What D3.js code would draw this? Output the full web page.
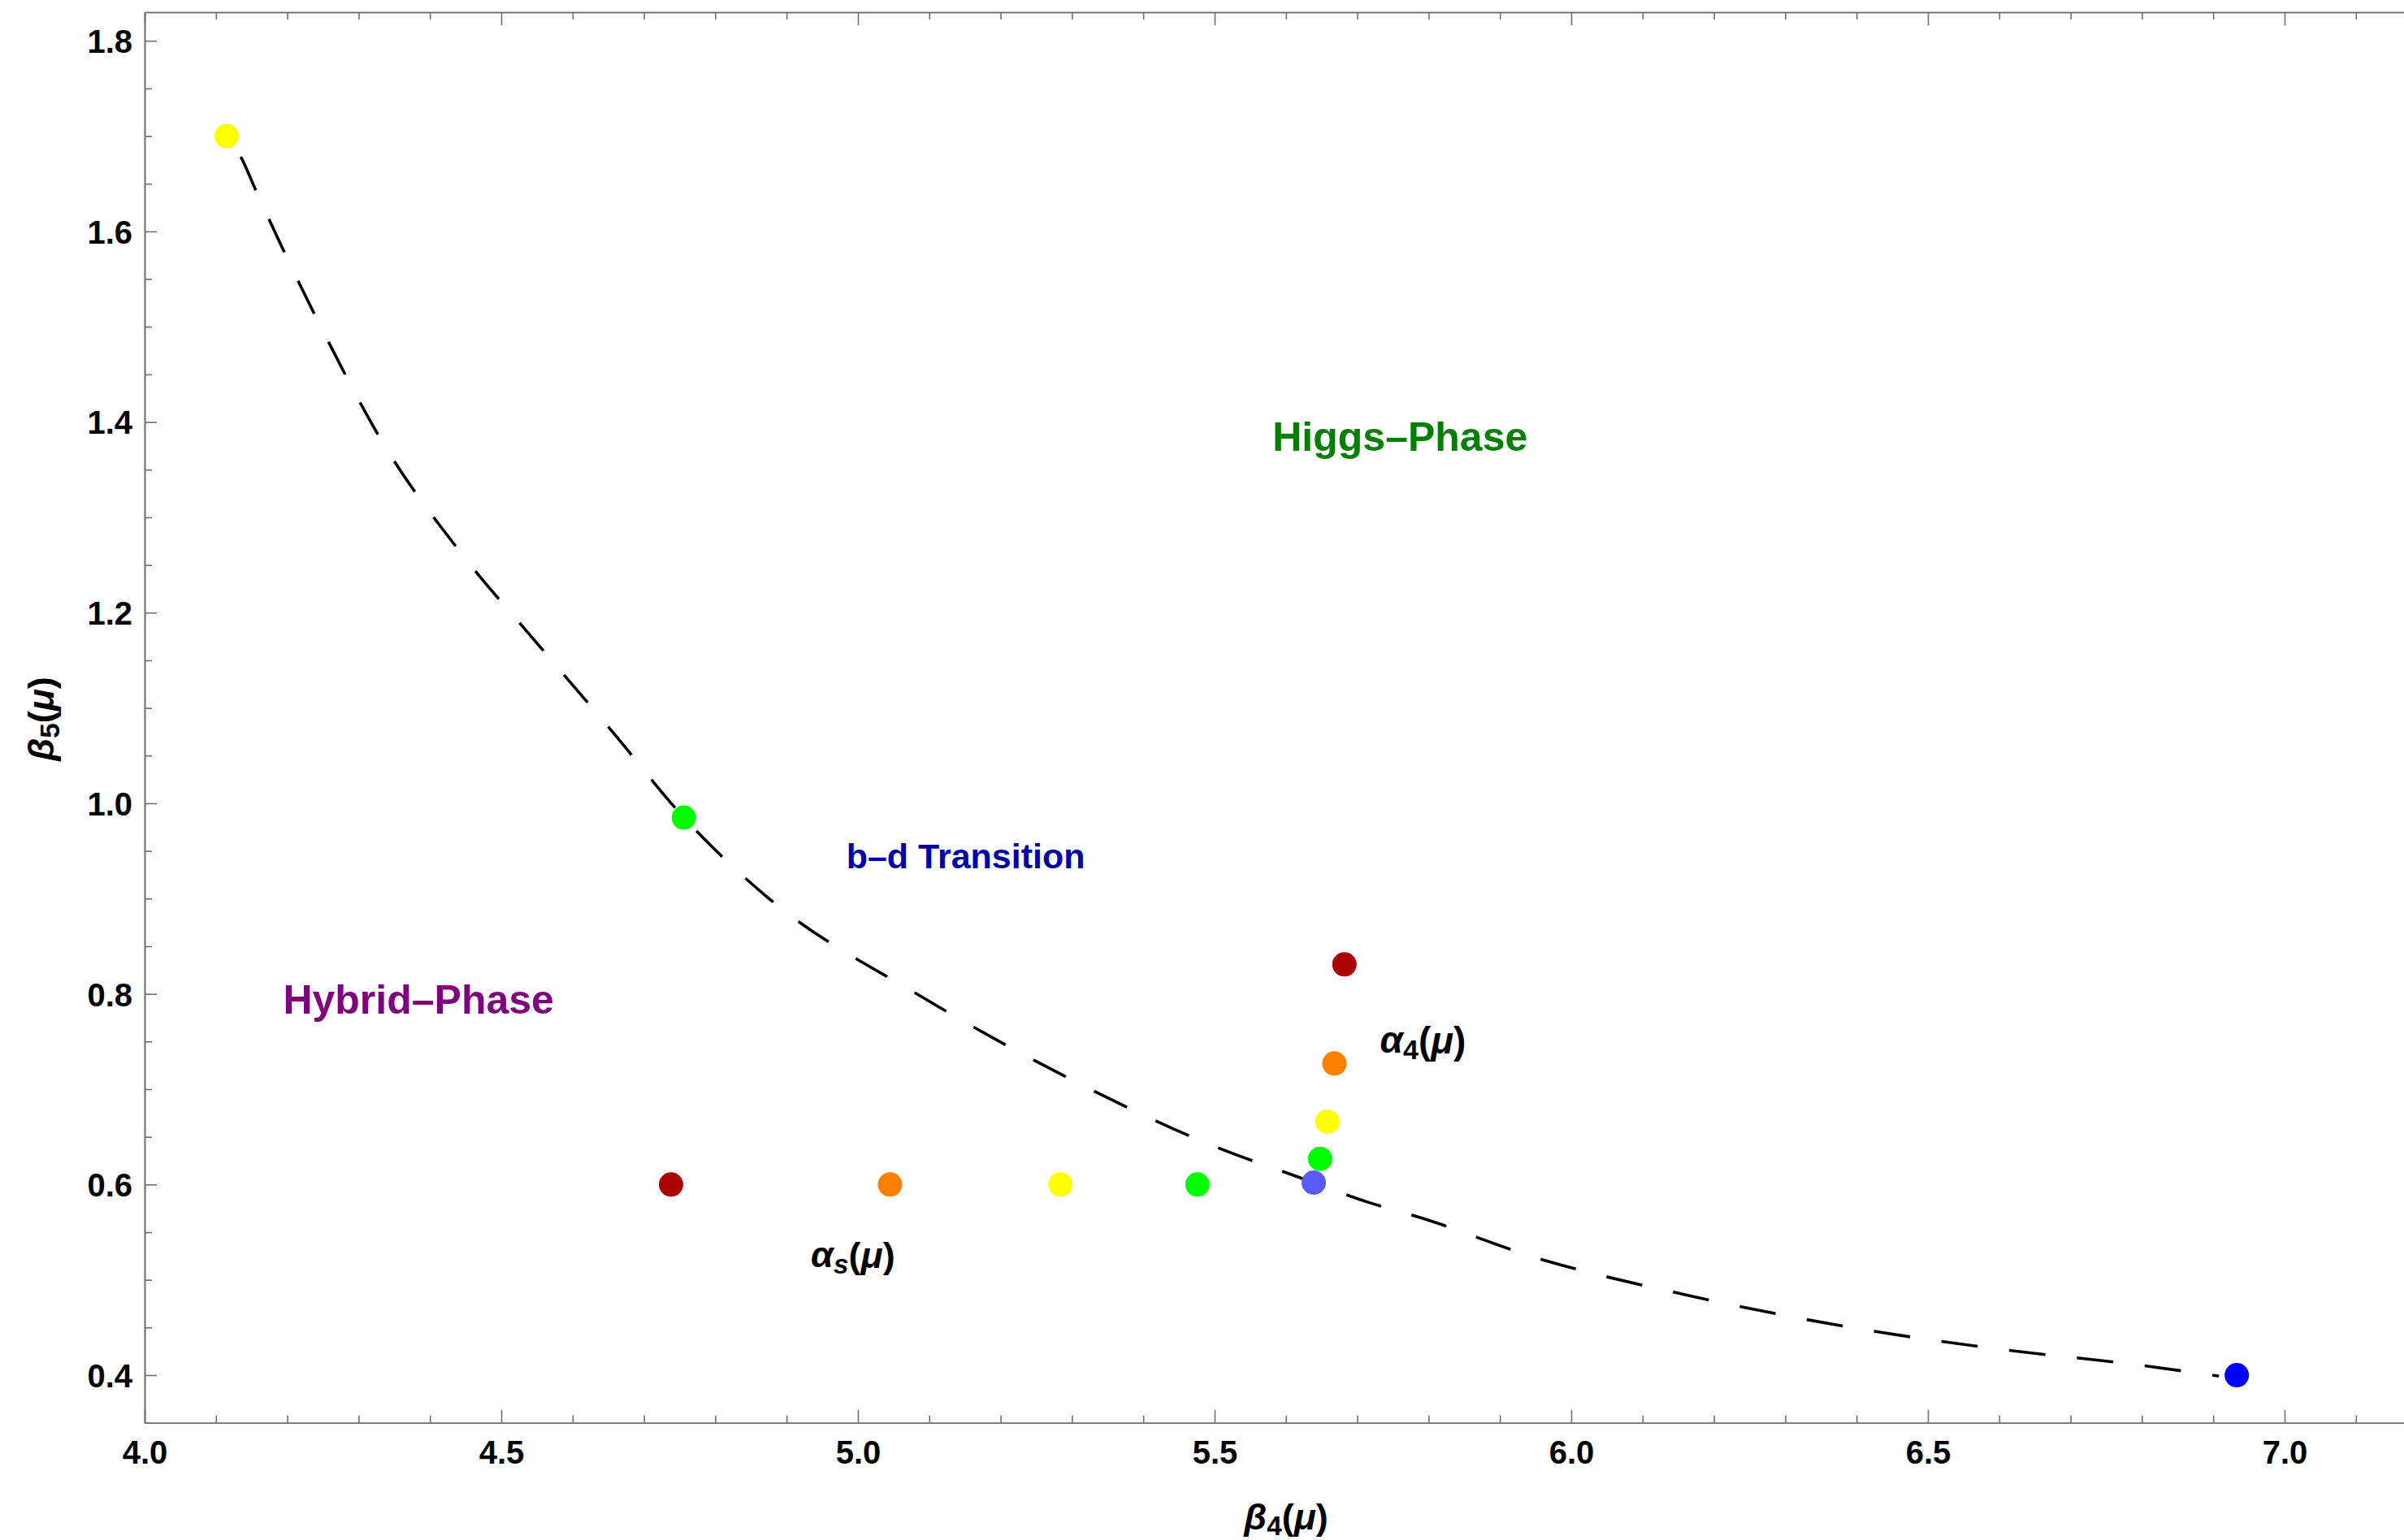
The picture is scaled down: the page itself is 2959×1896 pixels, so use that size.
<!DOCTYPE html>
<html>
<head>
<meta charset="utf-8">
<script src="https://cdnjs.cloudflare.com/ajax/libs/d3/7.8.5/d3.min.js"></script>
<style>
  html, body { margin: 0; padding: 0; background: #fff; }
  svg { display: block; }
  text { font-family: "Liberation Sans", Arial, sans-serif; font-weight: bold; }
</style>
</head>
<body>
<script>
// ---------------- data ----------------
const xMajorTicks = [4.0, 4.5, 5.0, 5.5, 6.0, 6.5, 7.0];
const yMajorTicks = [0.4, 0.6, 0.8, 1.0, 1.2, 1.4, 1.6, 1.8];

// dashed transition curve (beta4, beta5)
const curveBeta4 = [4.115, 4.135, 4.156, 4.196, 4.249, 4.335, 4.442, 4.55, 4.657, 4.756, 4.872, 5.087, 5.302, 5.51, 5.613, 5.717, 5.79, 5.947, 6.162, 6.377, 6.592, 6.791, 6.908];
const curveBeta5 = [1.70, 1.678, 1.643, 1.578, 1.497, 1.377, 1.264, 1.168, 1.074, 0.985, 0.902, 0.798, 0.709, 0.637, 0.609, 0.581, 0.565, 0.524, 0.484, 0.452, 0.428, 0.411, 0.399];

// coloured points
const pointBeta4 = [4.115, 4.756, 6.933, 4.738, 5.045, 5.284, 5.476, 5.639, 5.648, 5.658, 5.668, 5.682];
const pointBeta5 = [1.70, 0.985, 0.40, 0.60, 0.60, 0.60, 0.60, 0.602, 0.627, 0.666, 0.727, 0.831];
const pointColors = ["#ffff00", "#00ff00", "#0000ff", "#aa0000", "#ff8000", "#ffff00", "#00ff00", "#5a5aff", "#00ff00", "#ffff00", "#ff8000", "#aa0000"];

// region annotations
const regionLabels = ["Higgs\u2013Phase", "b\u2013d Transition", "Hybrid\u2013Phase"];
const regionBeta4 = [5.76, 5.151, 4.384];
const regionBeta5 = [1.385, 0.945, 0.795];
const regionColors = ["#007f00", "#0000aa", "#7f007f"];
const regionSizes = [50, 43, 50];

// ---------------- layout ----------------
const W = 2959, H = 1896;
const mLeft = 178, mRight = 2966, mTop = 15, mBottom = 1751.7;

const svg = d3.select("body").append("svg").attr("width", W).attr("height", H);

const x = d3.scaleLinear().domain([4.0, 4.0 + (mRight - mLeft) / 878]).range([mLeft, mRight]);
const y = d3.scaleLinear().domain([0.35, 1.83]).range([mBottom, mTop]);

const axisColor = "#6e6e6e";
const xMinor = d3.range(40, 72, 1).map(v => v / 10).filter(v => !xMajorTicks.some(m => Math.abs(m - v) < 1e-9));
const yMinor = d3.range(7, 37, 1).map(v => v / 20).filter(v => !yMajorTicks.some(m => Math.abs(m - v) < 1e-9));

// bottom axis
const gB = svg.append("g").attr("transform", `translate(0,${mBottom})`)
  .call(d3.axisBottom(x).tickValues(xMajorTicks).tickSize(-16).tickSizeOuter(0).tickPadding(22).tickFormat(d3.format(".1f")));
gB.append("g").call(d3.axisBottom(x).tickValues(xMinor).tickSize(-9).tickSizeOuter(0).tickFormat(""));
// top axis
const gT = svg.append("g").attr("transform", `translate(0,${mTop})`)
  .call(d3.axisTop(x).tickValues(xMajorTicks).tickSize(-16).tickSizeOuter(0).tickFormat(""));
gT.append("g").call(d3.axisTop(x).tickValues(xMinor).tickSize(-9).tickSizeOuter(0).tickFormat(""));
// left axis
const gL = svg.append("g").attr("transform", `translate(${mLeft},0)`)
  .call(d3.axisLeft(y).tickValues(yMajorTicks).tickSize(-15).tickSizeOuter(0).tickPadding(15).tickFormat(d3.format(".1f")));
gL.append("g").call(d3.axisLeft(y).tickValues(yMinor).tickSize(-9).tickSizeOuter(0).tickFormat(""));

svg.selectAll(".domain").attr("stroke", axisColor).attr("stroke-width", 1.6);
svg.selectAll(".tick line").attr("stroke", axisColor).attr("stroke-width", 1.6);
svg.selectAll(".tick text").attr("fill", "#000").style("font-size", "40px")
  .style("font-family", "'Liberation Sans', Arial, sans-serif").style("font-weight", "bold");
gL.selectAll(".tick text").attr("dy", "0.36em");
gB.selectAll(".tick text").attr("dy", "0.71em");

// dashed curve
const curveData = curveBeta4.map((b, i) => [b, curveBeta5[i]]);
svg.append("path")
  .datum(curveData)
  .attr("fill", "none")
  .attr("stroke", "#000")
  .attr("stroke-width", 3.6)
  .attr("stroke-dasharray", "45,39")
  .attr("stroke-dashoffset", 53)
  .attr("d", d3.line().x(d => x(d[0])).y(d => y(d[1])).curve(d3.curveMonotoneX));

// points
svg.append("g").selectAll("circle")
  .data(pointBeta4.map((b, i) => ({ b4: b, b5: pointBeta5[i], c: pointColors[i] })))
  .join("circle")
  .attr("cx", d => x(d.b4))
  .attr("cy", d => y(d.b5))
  .attr("r", 15)
  .attr("fill", d => d.c);

// region labels
svg.append("g").selectAll("text")
  .data(regionLabels.map((t, i) => ({ t, b4: regionBeta4[i], b5: regionBeta5[i], c: regionColors[i], s: regionSizes[i] })))
  .join("text")
  .attr("x", d => x(d.b4))
  .attr("y", d => y(d.b5))
  .attr("text-anchor", "middle")
  .attr("dy", "0.36em")
  .attr("fill", d => d.c)
  .style("font-size", d => d.s + "px")
  .text(d => d.t);

// coupling labels
function mathLabel(sel, sym, sub) {
  sel.append("tspan").attr("font-style", "italic").text(sym);
  sel.append("tspan").attr("font-size", "0.74em").attr("dy", "0.22em").attr("font-style", sub === "s" ? "italic" : "normal").text(sub);
  sel.append("tspan").attr("dy", "-0.16em").text("(");
  sel.append("tspan").attr("font-style", "italic").text("\u03bc");
  sel.append("tspan").text(")");
}
const a4 = svg.append("text").attr("x", x(5.792)).attr("y", y(0.738)).attr("text-anchor", "middle")
  .style("font-size", "46px").attr("fill", "#000");
mathLabel(a4, "\u03b1", "4");
const as = svg.append("text").attr("x", x(4.993)).attr("y", y(0.513)).attr("text-anchor", "middle")
  .style("font-size", "45px").attr("fill", "#000");
mathLabel(as, "\u03b1", "s");

// axis labels
const xl = svg.append("text").attr("x", 1583).attr("y", 1883).attr("text-anchor", "middle")
  .style("font-size", "45px").attr("fill", "#000");
mathLabel(xl, "\u03b2", "4");
const yl = svg.append("text").attr("transform", "translate(66,885) rotate(-90)").attr("text-anchor", "middle")
  .style("font-size", "45px").attr("fill", "#000");
mathLabel(yl, "\u03b2", "5");
</script>
</body>
</html>
